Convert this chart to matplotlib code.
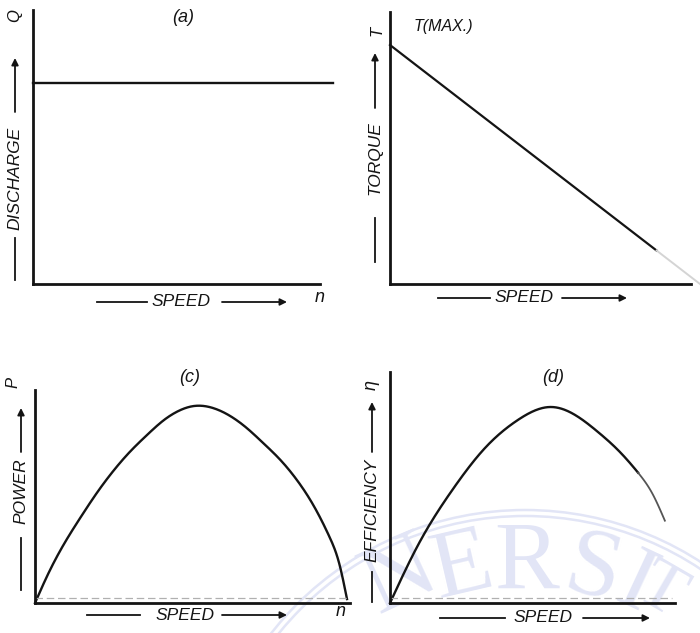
import numpy as np
import matplotlib
matplotlib.use('Agg')
import matplotlib.pyplot as plt
from matplotlib.patches import Circle

W, H = 700, 633

# ---------------- data (normalised readings) ----------------
discharge_speed = [0.0, 1.0]
discharge = [1.0, 1.0]

torque_speed = [0.0, 0.86, 1.0]
torque = [1.0, 0.14, 0.0]

power_speed = [0.0, 0.04, 0.09, 0.145, 0.2, 0.25, 0.305, 0.36, 0.41, 0.46, 0.51,
               0.57, 0.625, 0.68, 0.73, 0.785, 0.84, 0.89, 0.945, 0.975, 1.0]
power = [0.0, 0.14, 0.29, 0.43, 0.56, 0.665, 0.765, 0.85, 0.92, 0.97, 0.995,
         0.985, 0.945, 0.882, 0.81, 0.725, 0.62, 0.5, 0.33, 0.2, 0.02]

eff_speed = [0.0, 0.09, 0.199, 0.304, 0.41, 0.515, 0.561, 0.667, 0.731, 0.795,
             0.84, 0.881]
efficiency = [0.0, 0.296, 0.575, 0.79, 0.934, 1.0, 0.985, 0.872, 0.78, 0.665,
              0.561, 0.42]

panel_titles = ['(a)', '(b)', '(c)', '(d)']
y_names = ['DISCHARGE', 'TORQUE', 'POWER', 'EFFICIENCY']
y_symbols = ['Q', 'T', 'P', 'η']
x_name = 'SPEED'

INK = '#141414'
FONT = ['Liberation Sans Narrow', 'Liberation Sans', 'DejaVu Sans']

fig = plt.figure(figsize=(7.0, 6.33), dpi=100)
fig.patch.set_facecolor('white')


def smooth(x, y, n=400):
    """Natural cubic spline drawing path through the read points."""
    x = np.asarray(x, float)
    y = np.asarray(y, float)
    m = len(x)
    h = np.diff(x)
    A = np.zeros((m, m))
    r = np.zeros(m)
    A[0, 0] = A[-1, -1] = 1.0
    for i in range(1, m - 1):
        A[i, i - 1] = h[i - 1]
        A[i, i] = 2 * (h[i - 1] + h[i])
        A[i, i + 1] = h[i]
        r[i] = 6 * ((y[i + 1] - y[i]) / h[i] - (y[i] - y[i - 1]) / h[i - 1])
    M = np.linalg.solve(A, r)
    xs = np.linspace(x[0], x[-1], n)
    idx = np.clip(np.searchsorted(x, xs) - 1, 0, m - 2)
    x0, x1 = x[idx], x[idx + 1]
    hh = x1 - x0
    a = (x1 - xs) / hh
    b = (xs - x0) / hh
    ys = (a * y[idx] + b * y[idx + 1]
          + ((a ** 3 - a) * M[idx] + (b ** 3 - b) * M[idx + 1]) * hh ** 2 / 6)
    return xs, ys


def px_axes(x0, y0, x1, y1, z=2):
    return fig.add_axes([x0 / W, 1 - y1 / H, (x1 - x0) / W, (y1 - y0) / H], zorder=z)


def style(ax, xmax, ymax, xbound):
    ax.set_xlim(0, xmax)
    ax.set_ylim(0, ymax)
    ax.patch.set_alpha(0)
    for s in ('top', 'right'):
        ax.spines[s].set_visible(False)
    for s in ('left', 'bottom'):
        ax.spines[s].set_linewidth(2.0)
        ax.spines[s].set_color(INK)
    ax.spines['bottom'].set_bounds(0, xbound)
    ax.set_xticks([])
    ax.set_yticks([])


# ---------------- watermark background ----------------
bg = fig.add_axes([0, 0, 1, 1], zorder=0)
bg.set_xlim(0, W)
bg.set_ylim(H, 0)
bg.axis('off')
wm = '#e2e5f6'
for r in (323, 317):
    bg.add_patch(Circle((525, 833), r, fill=False, ec=wm, lw=1.8))
for ch, (cx, cy, rot, fs) in zip('NERSIT', [(400, 578, 25, 70), (462, 570, 13, 70),
                                            (527, 565, 0, 70), (593, 573, -14, 70),
                                            (636, 586, -25, 66), (661, 592, -30, 52)]):
    bg.text(cx, cy, ch, ha='center', va='center', rotation=rot, color=wm,
            fontsize=fs, family=['Liberation Serif', 'DejaVu Serif'])

# ---------------- panel (a) ----------------
ax = px_axes(33, 10, 333, 284)
style(ax, 1.0, 274 / 201, 0.957)
ax.plot(discharge_speed, discharge, color=INK, lw=1.7, clip_on=False)

# ---------------- panel (b) ----------------
ax = px_axes(390, 12, 700, 284)
style(ax, 1.0, 272 / 239, 0.97)
ax.plot(torque_speed[:2], torque[:2], color=INK, lw=1.6, clip_on=False)
ax.plot(torque_speed[1:], torque[1:], color='#d4d4d4', lw=1.4, clip_on=False)

# ---------------- panel (c) ----------------
ax = px_axes(35, 390, 350, 603)
style(ax, 315 / 312, 213 / 198, 315 / 312)
sx, sy = smooth(power_speed, power)
ax.plot(sx, sy, color=INK, lw=1.7, clip_on=False)
ax.axhline(0.025, color='#b0b0b0', lw=0.9, ls=(0, (6, 3)), xmax=0.99)

# ---------------- panel (d) ----------------
ax = px_axes(390, 372, 675, 603)
style(ax, 285 / 312, 231 / 196, 285 / 312)
sx, sy = smooth(eff_speed, efficiency)
k = int(len(sx) * 0.9)
ax.plot(sx[:k + 1], sy[:k + 1], color=INK, lw=1.7, clip_on=False)
ax.plot(sx[k:], sy[k:], color='#555555', lw=1.3, clip_on=False)
ax.axhline(0.025, color='#b0b0b0', lw=0.9, ls=(0, (6, 3)), xmax=0.99)

# ---------------- hand lettering overlay ----------------
fg = fig.add_axes([0, 0, 1, 1], zorder=10)
fg.set_xlim(0, W)
fg.set_ylim(H, 0)
fg.axis('off')
fg.patch.set_alpha(0)

tk = dict(color=INK, style='italic', family=FONT)


def hlabel(x_line0, x_line1, x_text, x_arr0, x_arr1, y):
    fg.plot([x_line0, x_line1], [y, y], color=INK, lw=1.3)
    fg.text(x_text, y, x_name, ha='center', va='center', fontsize=12.5, **tk)
    fg.annotate('', xy=(x_arr1, y), xytext=(x_arr0, y),
                arrowprops=dict(arrowstyle='-|>', lw=1.3, color=INK, mutation_scale=10,
                                shrinkA=0, shrinkB=0))


def vlabel(x, y_line0, y_line1, y_text, y_arr0, y_arr1, name):
    fg.plot([x, x], [y_line0, y_line1], color=INK, lw=1.3)
    fg.text(x, y_text, name, ha='center', va='center', rotation=90, fontsize=12.5, **tk)
    fg.annotate('', xy=(x, y_arr1), xytext=(x, y_arr0),
                arrowprops=dict(arrowstyle='-|>', lw=1.3, color=INK, mutation_scale=10,
                                shrinkA=0, shrinkB=0))


# (a)
fg.text(183, 18, panel_titles[0], ha='center', va='center', fontsize=13, **tk)
fg.text(15, 16, y_symbols[0], ha='center', va='center', rotation=90, fontsize=12, **tk)
vlabel(15, 280, 238, 178, 112, 58, y_names[0])
hlabel(97, 147, 181, 222, 287, 302)
fg.text(320, 298, 'n', ha='center', va='center', fontsize=13, **tk)

# (b)
fg.text(443, 26, 'T(MAX.)', ha='center', va='center', fontsize=11.5, **tk)
fg.text(377, 31, y_symbols[1], ha='center', va='center', rotation=90, fontsize=12, **tk)
vlabel(375, 262, 218, 158, 108, 53, y_names[1])
hlabel(438, 490, 524, 562, 627, 298)

# (c)
fg.text(190, 378, panel_titles[2], ha='center', va='center', fontsize=13, **tk)
fg.text(13, 382, y_symbols[2], ha='center', va='center', rotation=90, fontsize=12, **tk)
vlabel(21, 590, 538, 491, 452, 408, y_names[2])
hlabel(87, 140, 185, 222, 287, 615)
fg.text(341, 612, 'n', ha='center', va='center', fontsize=13, **tk)

# (d)
fg.text(553, 378, panel_titles[3], ha='center', va='center', fontsize=13, **tk)
fg.text(371, 385, y_symbols[3], ha='center', va='center', rotation=90, fontsize=13, **tk)
vlabel(372, 602, 572, 510, 452, 402, y_names[3])
hlabel(440, 505, 543, 583, 650, 618)

fig.savefig('out.png', dpi=100, facecolor='white')
